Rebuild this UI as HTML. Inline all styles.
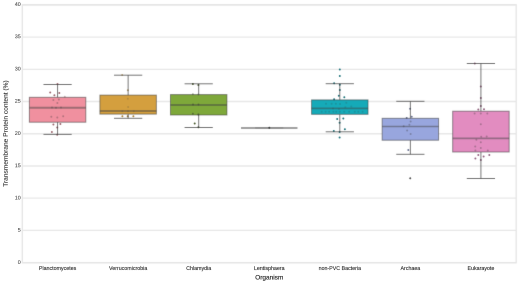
<!DOCTYPE html><html><head><meta charset="utf-8"><style>html,body{margin:0;padding:0;background:#fff;}body{position:relative;width:520px;height:283px;overflow:hidden;}svg{display:block;}text{font-family:"Liberation Sans",sans-serif;}.t{fill:#262626;opacity:0.99;will-change:transform;text-rendering:geometricPrecision;}.t text{stroke:#2a2a2a;stroke-width:inherit;}.t{stroke-width:0.18px;}</style></head><body>
<svg width="520" height="283" viewBox="0 0 520 283">
<defs><filter id="b" color-interpolation-filters="sRGB" x="0" y="0" width="520" height="283" filterUnits="userSpaceOnUse"><feConvolveMatrix order="3" kernelMatrix="0.00640 0.06720 0.00640 0.06720 0.70560 0.06720 0.00640 0.06720 0.00640" divisor="1" edgeMode="duplicate" preserveAlpha="true"/></filter><filter id="bt" color-interpolation-filters="sRGB" x="0" y="0" width="520" height="283" filterUnits="userSpaceOnUse"><feConvolveMatrix order="3" kernelMatrix="0.00640 0.06720 0.00640 0.06720 0.70560 0.06720 0.00640 0.06720 0.00640" divisor="1" edgeMode="duplicate" preserveAlpha="true"/></filter></defs>
<g filter="url(#b)">
<rect width="520" height="283" fill="#fff"/>
<line x1="22.30" x2="516.20" y1="262.70" y2="262.70" stroke="#e8e8e8" stroke-width="1.3"/>
<line x1="22.30" x2="516.20" y1="230.46" y2="230.46" stroke="#e8e8e8" stroke-width="1.3"/>
<line x1="22.30" x2="516.20" y1="198.22" y2="198.22" stroke="#e8e8e8" stroke-width="1.3"/>
<line x1="22.30" x2="516.20" y1="165.99" y2="165.99" stroke="#e8e8e8" stroke-width="1.3"/>
<line x1="22.30" x2="516.20" y1="133.75" y2="133.75" stroke="#e8e8e8" stroke-width="1.3"/>
<line x1="22.30" x2="516.20" y1="101.51" y2="101.51" stroke="#e8e8e8" stroke-width="1.3"/>
<line x1="22.30" x2="516.20" y1="69.28" y2="69.28" stroke="#e8e8e8" stroke-width="1.3"/>
<line x1="22.30" x2="516.20" y1="37.04" y2="37.04" stroke="#e8e8e8" stroke-width="1.3"/>
<line x1="22.30" x2="516.20" y1="4.80" y2="4.80" stroke="#e8e8e8" stroke-width="1.3"/>
<rect x="22.30" y="4.80" width="493.90" height="257.90" fill="none" stroke="#e5e5e5" stroke-width="1.3"/>
<rect x="29.36" y="97.3" width="56.45" height="24.90" fill="#f0909f"/>
<rect x="99.91" y="95.1" width="56.45" height="19.00" fill="#d49f3e"/>
<rect x="170.47" y="94.6" width="56.45" height="20.40" fill="#7ea83a"/>
<rect x="311.58" y="99.9" width="56.45" height="14.40" fill="#15aab8"/>
<rect x="382.14" y="118.3" width="56.45" height="21.90" fill="#98a6de"/>
<rect x="452.70" y="111.2" width="56.45" height="40.80" fill="#e28cc0"/>
<circle cx="57.5" cy="84.0" r="1.0" fill="#9d6870" fill-opacity="1"/>
<circle cx="50.2" cy="92.5" r="1.0" fill="#9d6870" fill-opacity="1"/>
<circle cx="54.4" cy="95.2" r="1.0" fill="#9d6870" fill-opacity="1"/>
<circle cx="59.3" cy="93.0" r="1.0" fill="#9d6870" fill-opacity="1"/>
<circle cx="64.8" cy="96.7" r="1.0" fill="#9d6870" fill-opacity="0.45"/>
<circle cx="53.4" cy="99.9" r="1.0" fill="#9d6870" fill-opacity="0.7"/>
<circle cx="58.9" cy="99.4" r="1.0" fill="#9d6870" fill-opacity="0.7"/>
<circle cx="57.4" cy="102.9" r="1.0" fill="#9d6870" fill-opacity="0.7"/>
<circle cx="52" cy="107.6" r="1.0" fill="#9d6870" fill-opacity="0.7"/>
<circle cx="56" cy="107.8" r="1.0" fill="#9d6870" fill-opacity="0.7"/>
<circle cx="61" cy="107.6" r="1.0" fill="#9d6870" fill-opacity="0.7"/>
<circle cx="51.3" cy="116.7" r="1.0" fill="#9d6870" fill-opacity="0.7"/>
<circle cx="57.3" cy="117.5" r="1.0" fill="#9d6870" fill-opacity="0.7"/>
<circle cx="63.2" cy="116.3" r="1.0" fill="#9d6870" fill-opacity="0.7"/>
<circle cx="53.4" cy="124.5" r="1.0" fill="#9d6870" fill-opacity="1"/>
<circle cx="60.4" cy="124" r="1.0" fill="#9d6870" fill-opacity="1"/>
<circle cx="57.2" cy="127.6" r="1.0" fill="#9d6870" fill-opacity="1"/>
<circle cx="51.9" cy="132" r="1.0" fill="#9d6870" fill-opacity="1"/>
<circle cx="57.2" cy="134.8" r="1.0" fill="#9d6870" fill-opacity="1"/>
<circle cx="122.2" cy="75" r="1.0" fill="#a9833d" fill-opacity="0.6"/>
<circle cx="127.8" cy="90.3" r="1.0" fill="#a9833d" fill-opacity="0.7"/>
<circle cx="127.8" cy="98.8" r="1.0" fill="#a9833d" fill-opacity="0.7"/>
<circle cx="128.1" cy="107.1" r="1.0" fill="#a9833d" fill-opacity="0.7"/>
<circle cx="122.4" cy="111.3" r="1.0" fill="#a9833d" fill-opacity="0.7"/>
<circle cx="128" cy="111.3" r="1.0" fill="#a9833d" fill-opacity="0.7"/>
<circle cx="133.8" cy="111.3" r="1.0" fill="#a9833d" fill-opacity="0.7"/>
<circle cx="122.4" cy="116.3" r="1.0" fill="#a9833d" fill-opacity="1"/>
<circle cx="127.7" cy="116.3" r="1.0" fill="#a9833d" fill-opacity="1"/>
<circle cx="133.4" cy="116.3" r="1.0" fill="#a9833d" fill-opacity="1"/>
<circle cx="192.9" cy="83.9" r="1.0" fill="#4a5b2f" fill-opacity="1"/>
<circle cx="198.4" cy="85" r="1.0" fill="#4a5b2f" fill-opacity="1"/>
<circle cx="192.9" cy="94.2" r="1.0" fill="#4a5b2f" fill-opacity="0.5"/>
<circle cx="198.4" cy="94.5" r="1.0" fill="#4a5b2f" fill-opacity="0.5"/>
<circle cx="193" cy="104.6" r="1.0" fill="#4a5b2f" fill-opacity="0.7"/>
<circle cx="198.5" cy="104.6" r="1.0" fill="#4a5b2f" fill-opacity="0.7"/>
<circle cx="192.9" cy="113.8" r="1.0" fill="#4a5b2f" fill-opacity="0.7"/>
<circle cx="198.4" cy="114.4" r="1.0" fill="#4a5b2f" fill-opacity="1"/>
<circle cx="194.7" cy="123.5" r="1.0" fill="#4a5b2f" fill-opacity="1"/>
<circle cx="198.4" cy="127.2" r="1.0" fill="#4a5b2f" fill-opacity="1"/>
<circle cx="269.3" cy="127.8" r="1.0" fill="#3a3f3d" fill-opacity="1"/>
<circle cx="339.8" cy="69.6" r="1.0" fill="#24767e" fill-opacity="1"/>
<circle cx="339.8" cy="75.9" r="1.0" fill="#24767e" fill-opacity="1"/>
<circle cx="334.1" cy="83.3" r="1.0" fill="#24767e" fill-opacity="1"/>
<circle cx="339.8" cy="84.7" r="1.0" fill="#24767e" fill-opacity="1"/>
<circle cx="339.8" cy="90" r="1.0" fill="#24767e" fill-opacity="1"/>
<circle cx="338.8" cy="95.8" r="1.0" fill="#24767e" fill-opacity="1"/>
<circle cx="344.3" cy="97.2" r="1.0" fill="#24767e" fill-opacity="1"/>
<circle cx="334.1" cy="99.3" r="1.0" fill="#24767e" fill-opacity="1"/>
<circle cx="326" cy="103.7" r="1.0" fill="#24767e" fill-opacity="0.42"/>
<circle cx="331.6" cy="103.7" r="1.0" fill="#24767e" fill-opacity="0.42"/>
<circle cx="335.9" cy="103.7" r="1.0" fill="#24767e" fill-opacity="0.42"/>
<circle cx="340" cy="104" r="1.0" fill="#24767e" fill-opacity="0.42"/>
<circle cx="346.3" cy="102.8" r="1.0" fill="#24767e" fill-opacity="0.42"/>
<circle cx="345.3" cy="107.2" r="1.0" fill="#24767e" fill-opacity="0.42"/>
<circle cx="351.3" cy="106.5" r="1.0" fill="#24767e" fill-opacity="0.42"/>
<circle cx="333" cy="108.5" r="1.0" fill="#24767e" fill-opacity="0.42"/>
<circle cx="339" cy="109" r="1.0" fill="#24767e" fill-opacity="0.42"/>
<circle cx="321.7" cy="111.8" r="1.0" fill="#24767e" fill-opacity="0.42"/>
<circle cx="325.6" cy="111.8" r="1.0" fill="#24767e" fill-opacity="0.42"/>
<circle cx="329.1" cy="111.8" r="1.0" fill="#24767e" fill-opacity="0.42"/>
<circle cx="333.4" cy="111.8" r="1.0" fill="#24767e" fill-opacity="0.42"/>
<circle cx="336.2" cy="111.8" r="1.0" fill="#24767e" fill-opacity="0.42"/>
<circle cx="339.8" cy="111.8" r="1.0" fill="#24767e" fill-opacity="0.42"/>
<circle cx="344.2" cy="111.8" r="1.0" fill="#24767e" fill-opacity="0.42"/>
<circle cx="349.1" cy="111.8" r="1.0" fill="#24767e" fill-opacity="0.42"/>
<circle cx="354.8" cy="111.8" r="1.0" fill="#24767e" fill-opacity="0.42"/>
<circle cx="358.3" cy="111.8" r="1.0" fill="#24767e" fill-opacity="0.42"/>
<circle cx="362.6" cy="111.8" r="1.0" fill="#24767e" fill-opacity="0.42"/>
<circle cx="337.2" cy="118.9" r="1.0" fill="#24767e" fill-opacity="1"/>
<circle cx="343.3" cy="118.6" r="1.0" fill="#24767e" fill-opacity="1"/>
<circle cx="339.6" cy="122.8" r="1.0" fill="#24767e" fill-opacity="1"/>
<circle cx="344.9" cy="129.3" r="1.0" fill="#24767e" fill-opacity="1"/>
<circle cx="333.8" cy="131.1" r="1.0" fill="#24767e" fill-opacity="1"/>
<circle cx="339.6" cy="132" r="1.0" fill="#24767e" fill-opacity="1"/>
<circle cx="339.6" cy="137.5" r="1.0" fill="#24767e" fill-opacity="1"/>
<circle cx="410.1" cy="108.8" r="1.0" fill="#6c7493" fill-opacity="1"/>
<circle cx="411.7" cy="116.8" r="1.0" fill="#6c7493" fill-opacity="1"/>
<circle cx="406.7" cy="118" r="1.0" fill="#6c7493" fill-opacity="1"/>
<circle cx="410.6" cy="121.4" r="1.0" fill="#6c7493" fill-opacity="0.7"/>
<circle cx="403.7" cy="126.2" r="1.0" fill="#6c7493" fill-opacity="0.7"/>
<circle cx="409.4" cy="124.8" r="1.0" fill="#6c7493" fill-opacity="0.7"/>
<circle cx="407.1" cy="130.6" r="1.0" fill="#6c7493" fill-opacity="0.7"/>
<circle cx="410.6" cy="134" r="1.0" fill="#6c7493" fill-opacity="0.7"/>
<circle cx="408.3" cy="150.1" r="1.0" fill="#6c7493" fill-opacity="1"/>
<circle cx="474.8" cy="63.5" r="1.0" fill="#956682" fill-opacity="1"/>
<circle cx="480.8" cy="86.4" r="1.0" fill="#956682" fill-opacity="1"/>
<circle cx="480.8" cy="98.1" r="1.0" fill="#956682" fill-opacity="1"/>
<circle cx="480.8" cy="106" r="1.0" fill="#956682" fill-opacity="1"/>
<circle cx="478.3" cy="109.6" r="1.0" fill="#956682" fill-opacity="1"/>
<circle cx="484" cy="109.2" r="1.0" fill="#956682" fill-opacity="1"/>
<circle cx="474.6" cy="113.5" r="1.0" fill="#956682" fill-opacity="0.7"/>
<circle cx="480.8" cy="113.5" r="1.0" fill="#956682" fill-opacity="0.7"/>
<circle cx="487.3" cy="113.5" r="1.0" fill="#956682" fill-opacity="0.7"/>
<circle cx="480.8" cy="124.2" r="1.0" fill="#956682" fill-opacity="0.7"/>
<circle cx="481.2" cy="136.8" r="1.0" fill="#956682" fill-opacity="0.7"/>
<circle cx="486.7" cy="136.6" r="1.0" fill="#956682" fill-opacity="0.7"/>
<circle cx="476.4" cy="139.7" r="1.0" fill="#956682" fill-opacity="0.7"/>
<circle cx="480.8" cy="142.3" r="1.0" fill="#956682" fill-opacity="0.7"/>
<circle cx="475.2" cy="146.5" r="1.0" fill="#956682" fill-opacity="0.7"/>
<circle cx="480.8" cy="148.1" r="1.0" fill="#956682" fill-opacity="0.7"/>
<circle cx="487.8" cy="150.4" r="1.0" fill="#956682" fill-opacity="0.7"/>
<circle cx="475.4" cy="150.4" r="1.0" fill="#956682" fill-opacity="0.7"/>
<circle cx="478.3" cy="154.9" r="1.0" fill="#956682" fill-opacity="1"/>
<circle cx="483.6" cy="156.5" r="1.0" fill="#956682" fill-opacity="1"/>
<circle cx="489.3" cy="154.9" r="1.0" fill="#956682" fill-opacity="1"/>
<circle cx="475.4" cy="158.6" r="1.0" fill="#956682" fill-opacity="1"/>
<circle cx="480.8" cy="160.1" r="1.0" fill="#956682" fill-opacity="1"/>
<line x1="57.58" x2="57.58" y1="84.5" y2="97.3" stroke="#414141" stroke-opacity="0.7" stroke-width="1.0"/>
<line x1="57.58" x2="57.58" y1="122.2" y2="134.4" stroke="#414141" stroke-opacity="0.7" stroke-width="1.0"/>
<line x1="43.47" x2="71.69" y1="84.5" y2="84.5" stroke="#414141" stroke-opacity="0.72" stroke-width="1.0"/>
<line x1="43.47" x2="71.69" y1="134.4" y2="134.4" stroke="#414141" stroke-opacity="0.72" stroke-width="1.0"/>
<rect x="29.36" y="97.3" width="56.45" height="24.90" fill="none" stroke="#414141" stroke-opacity="0.55" stroke-width="1.0"/>
<line x1="29.36" x2="85.80" y1="107.7" y2="107.7" stroke="#414141" stroke-opacity="0.46" stroke-width="2.0"/>
<line x1="128.14" x2="128.14" y1="75.2" y2="95.1" stroke="#414141" stroke-opacity="0.7" stroke-width="1.0"/>
<line x1="128.14" x2="128.14" y1="114.1" y2="118.3" stroke="#414141" stroke-opacity="0.7" stroke-width="1.0"/>
<line x1="114.02" x2="142.25" y1="75.2" y2="75.2" stroke="#414141" stroke-opacity="0.72" stroke-width="1.0"/>
<line x1="114.02" x2="142.25" y1="118.3" y2="118.3" stroke="#414141" stroke-opacity="0.72" stroke-width="1.0"/>
<rect x="99.91" y="95.1" width="56.45" height="19.00" fill="none" stroke="#414141" stroke-opacity="0.55" stroke-width="1.0"/>
<line x1="99.91" x2="156.36" y1="111.0" y2="111.0" stroke="#414141" stroke-opacity="0.46" stroke-width="2.0"/>
<line x1="198.69" x2="198.69" y1="83.8" y2="94.6" stroke="#414141" stroke-opacity="0.7" stroke-width="1.0"/>
<line x1="198.69" x2="198.69" y1="115.0" y2="127.5" stroke="#414141" stroke-opacity="0.7" stroke-width="1.0"/>
<line x1="184.58" x2="212.80" y1="83.8" y2="83.8" stroke="#414141" stroke-opacity="0.72" stroke-width="1.0"/>
<line x1="184.58" x2="212.80" y1="127.5" y2="127.5" stroke="#414141" stroke-opacity="0.72" stroke-width="1.0"/>
<rect x="170.47" y="94.6" width="56.45" height="20.40" fill="none" stroke="#414141" stroke-opacity="0.55" stroke-width="1.0"/>
<line x1="170.47" x2="226.92" y1="104.9" y2="104.9" stroke="#414141" stroke-opacity="0.46" stroke-width="2.0"/>
<line x1="241.03" x2="297.47" y1="127.9" y2="127.9" stroke="#414141" stroke-opacity="0.66" stroke-width="1.5"/>
<line x1="255.14" x2="283.36" y1="127.9" y2="127.9" stroke="#414141" stroke-opacity="0.2" stroke-width="1.5"/>
<line x1="339.81" x2="339.81" y1="83.7" y2="99.9" stroke="#414141" stroke-opacity="0.7" stroke-width="1.0"/>
<line x1="339.81" x2="339.81" y1="114.3" y2="131.8" stroke="#414141" stroke-opacity="0.7" stroke-width="1.0"/>
<line x1="325.70" x2="353.92" y1="83.7" y2="83.7" stroke="#414141" stroke-opacity="0.72" stroke-width="1.0"/>
<line x1="325.70" x2="353.92" y1="131.8" y2="131.8" stroke="#414141" stroke-opacity="0.72" stroke-width="1.0"/>
<rect x="311.58" y="99.9" width="56.45" height="14.40" fill="none" stroke="#414141" stroke-opacity="0.55" stroke-width="1.0"/>
<line x1="311.58" x2="368.03" y1="108.4" y2="108.4" stroke="#414141" stroke-opacity="0.46" stroke-width="1.7"/>
<line x1="410.36" x2="410.36" y1="101.3" y2="118.3" stroke="#414141" stroke-opacity="0.7" stroke-width="1.0"/>
<line x1="410.36" x2="410.36" y1="140.2" y2="154.3" stroke="#414141" stroke-opacity="0.7" stroke-width="1.0"/>
<line x1="396.25" x2="424.48" y1="101.3" y2="101.3" stroke="#414141" stroke-opacity="0.72" stroke-width="1.0"/>
<line x1="396.25" x2="424.48" y1="154.3" y2="154.3" stroke="#414141" stroke-opacity="0.72" stroke-width="1.0"/>
<rect x="382.14" y="118.3" width="56.45" height="21.90" fill="none" stroke="#414141" stroke-opacity="0.55" stroke-width="1.0"/>
<line x1="382.14" x2="438.59" y1="126.5" y2="126.5" stroke="#414141" stroke-opacity="0.46" stroke-width="1.7"/>
<line x1="480.92" x2="480.92" y1="63.5" y2="111.2" stroke="#414141" stroke-opacity="0.7" stroke-width="1.0"/>
<line x1="480.92" x2="480.92" y1="152.0" y2="178.5" stroke="#414141" stroke-opacity="0.7" stroke-width="1.0"/>
<line x1="466.81" x2="495.03" y1="63.5" y2="63.5" stroke="#414141" stroke-opacity="0.72" stroke-width="1.0"/>
<line x1="466.81" x2="495.03" y1="178.5" y2="178.5" stroke="#414141" stroke-opacity="0.72" stroke-width="1.0"/>
<rect x="452.70" y="111.2" width="56.45" height="40.80" fill="none" stroke="#414141" stroke-opacity="0.55" stroke-width="1.0"/>
<line x1="452.70" x2="509.14" y1="138.3" y2="138.3" stroke="#414141" stroke-opacity="0.46" stroke-width="1.7"/>
<path d="M409.00 178.2 L410.2 176.89999999999998 L411.40 178.2 L410.2 179.5 Z" fill="#505050"/>
</g>
<g id="svgtext" style="opacity:0.99" font-family="Liberation Sans, sans-serif">
<text x="20.70" y="263.90" font-size="5.3" text-anchor="end" fill="#333">0</text>
<text x="20.70" y="231.66" font-size="5.3" text-anchor="end" fill="#333">5</text>
<text x="20.70" y="199.42" font-size="5.3" text-anchor="end" fill="#333">10</text>
<text x="20.70" y="167.19" font-size="5.3" text-anchor="end" fill="#333">15</text>
<text x="20.70" y="134.95" font-size="5.3" text-anchor="end" fill="#333">20</text>
<text x="20.70" y="102.71" font-size="5.3" text-anchor="end" fill="#333">25</text>
<text x="20.70" y="70.48" font-size="5.3" text-anchor="end" fill="#333">30</text>
<text x="20.70" y="38.24" font-size="5.3" text-anchor="end" fill="#333">35</text>
<text x="20.70" y="6.00" font-size="5.3" text-anchor="end" fill="#333">40</text>
<text x="57.58" y="269.90" font-size="5.3" text-anchor="middle" fill="#262626">Planctomycetes</text>
<text x="128.14" y="269.90" font-size="5.3" text-anchor="middle" fill="#262626">Verrucomicrobia</text>
<text x="198.69" y="269.90" font-size="5.3" text-anchor="middle" fill="#262626">Chlamydia</text>
<text x="269.25" y="269.90" font-size="5.3" text-anchor="middle" fill="#262626">Lentisphaera</text>
<text x="339.81" y="269.90" font-size="5.3" text-anchor="middle" fill="#262626">non-PVC Bacteria</text>
<text x="410.36" y="269.90" font-size="5.3" text-anchor="middle" fill="#262626">Archaea</text>
<text x="480.92" y="269.90" font-size="5.3" text-anchor="middle" fill="#262626">Eukarayote</text>
<text x="269.25" y="279.60" font-size="6.5" text-anchor="middle" fill="#262626">Organism</text>
<text transform="translate(7.70,133.60) rotate(-90)" x="0" y="0" font-size="6.6" text-anchor="middle" fill="#262626">Transmembrane Protein content (%)</text>
</g>
</svg>
<canvas id="cv" width="520" height="283" style="position:absolute;left:0;top:0;width:520px;height:283px;pointer-events:none"></canvas>
<script>(function(){try{var S=4,T=[["0", 20.7, 263.9, 5.3, "end", 0, "#333", 0.04], ["5", 20.7, 231.66, 5.3, "end", 0, "#333", 0.04], ["10", 20.7, 199.42, 5.3, "end", 0, "#333", 0.04], ["15", 20.7, 167.19, 5.3, "end", 0, "#333", 0.04], ["20", 20.7, 134.95, 5.3, "end", 0, "#333", 0.04], ["25", 20.7, 102.71, 5.3, "end", 0, "#333", 0.04], ["30", 20.7, 70.48, 5.3, "end", 0, "#333", 0.04], ["35", 20.7, 38.24, 5.3, "end", 0, "#333", 0.04], ["40", 20.7, 6.0, 5.3, "end", 0, "#333", 0.04], ["Planctomycetes", 57.58, 269.9, 5.3, "middle", 0, "#262626", 0.1], ["Verrucomicrobia", 128.14, 269.9, 5.3, "middle", 0, "#262626", 0.1], ["Chlamydia", 198.69, 269.9, 5.3, "middle", 0, "#262626", 0.1], ["Lentisphaera", 269.25, 269.9, 5.3, "middle", 0, "#262626", 0.1], ["non-PVC Bacteria", 339.81, 269.9, 5.3, "middle", 0, "#262626", 0.1], ["Archaea", 410.36, 269.9, 5.3, "middle", 0, "#262626", 0.1], ["Eukarayote", 480.92, 269.9, 5.3, "middle", 0, "#262626", 0.1], ["Organism", 269.25, 279.6, 6.5, "middle", 0, "#262626", 0.16], ["Transmembrane Protein content (%)", 7.7, 133.6, 6.6, "middle", -90, "#262626", 0.08]];var o=document.createElement("canvas");o.width=520*S;o.height=283*S;var c=o.getContext("2d");c.textBaseline="alphabetic";for(var i=0;i<T.length;i++){var t=T[i];c.save();c.translate(t[1]*S,t[2]*S);if(t[5])c.rotate(t[5]*Math.PI/180);c.font=(t[3]*S)+"px \"Liberation Sans\", sans-serif";c.textAlign=t[4]=="end"?"right":(t[4]=="middle"?"center":"left");c.fillStyle=t[6];if(t[7]>0){c.lineWidth=t[7]*S;c.strokeStyle=t[6];c.strokeText(t[0],0,0);}c.fillText(t[0],0,0);c.restore();}var m=document.getElementById("cv").getContext("2d");m.imageSmoothingEnabled=true;m.imageSmoothingQuality="high";m.drawImage(o,0,0,520,283);document.getElementById("svgtext").style.display="none";}catch(e){}})();</script>
</body></html>
